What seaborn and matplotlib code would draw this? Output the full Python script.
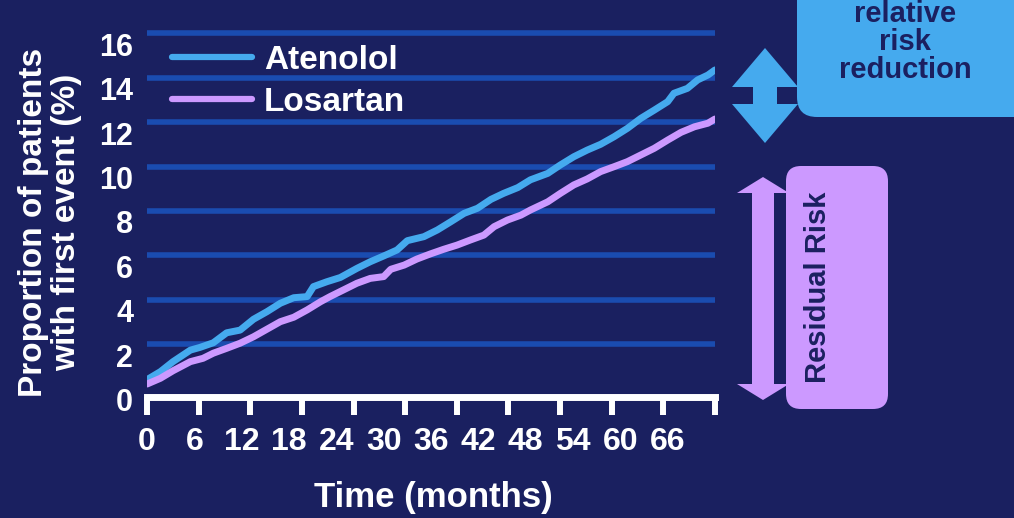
import matplotlib
matplotlib.use("Agg")
import matplotlib.pyplot as plt
import matplotlib.transforms as mtransforms
from matplotlib.patches import FancyBboxPatch, Polygon
import numpy as np
import pandas as pd
import seaborn as sns

# Cumulative incidence of first event (%), by month of follow-up
atenolol_months = [0, 1.7, 3.3, 5.5, 6.7, 8.4, 10.1, 11.8, 13.5, 15.2,
                   16.9, 18.6, 20.3, 21.1, 22.8, 24.5, 26.6, 28.3, 30.0, 31.7,
                   33.0, 35.1, 36.8, 38.5, 40.2, 41.9, 43.6, 45.2, 47.0, 48.6,
                   50.8, 52.4, 54.1, 55.8, 57.5, 59.2, 60.9, 62.6, 64.3, 66.0,
                   66.8, 68.5, 69.8, 71.1, 72.0]
atenolol_pct = [0.4, 0.76, 1.21, 1.73, 1.85, 2.06, 2.51, 2.63, 3.12, 3.46,
                3.84, 4.09, 4.14, 4.59, 4.81, 5.0, 5.41, 5.71, 5.97, 6.24,
                6.66, 6.84, 7.14, 7.51, 7.89, 8.12, 8.52, 8.79, 9.05, 9.4,
                9.69, 10.07, 10.44, 10.74, 11.0, 11.34, 11.72, 12.17, 12.54, 12.92,
                13.3, 13.52, 13.9, 14.12, 14.35]

losartan_months = [0, 1.7, 3.3, 5.5, 7.1, 8.4, 10.1, 11.8, 13.5, 15.2,
                   16.9, 18.6, 20.3, 22.0, 23.2, 24.9, 26.6, 28.3, 30.0, 30.9,
                   32.6, 34.2, 35.9, 37.6, 39.3, 41.0, 42.7, 44.0, 45.7, 47.4,
                   48.6, 50.8, 52.4, 54.1, 55.8, 57.5, 59.2, 60.9, 62.6, 64.3,
                   66.0, 67.7, 69.4, 71.1, 72.0]
losartan_pct = [0.2, 0.46, 0.8, 1.21, 1.36, 1.59, 1.81, 2.04, 2.33, 2.67,
                3.01, 3.21, 3.54, 3.91, 4.14, 4.44, 4.74, 4.96, 5.04, 5.37,
                5.56, 5.83, 6.06, 6.27, 6.46, 6.69, 6.91, 7.29, 7.59, 7.81,
                8.04, 8.41, 8.79, 9.17, 9.44, 9.77, 9.99, 10.22, 10.52, 10.82,
                11.19, 11.54, 11.79, 11.95, 12.14]

series_names = ["Atenolol", "Losartan"]
xtick_values = [0, 6, 12, 18, 24, 30, 36, 42, 48, 54, 60, 66]
xtick_labels = [str(v) for v in xtick_values]
ytick_values = [0, 2, 4, 6, 8, 10, 12, 14, 16]
ytick_labels = [str(v) for v in ytick_values]

BG = "#1a2060"
GRID = "#1a4cb0"
NAVY = "#1b2060"
BLUE = "#45aaee"
LILAC = "#cc99ff"

df = pd.concat([
    pd.DataFrame({"Month": atenolol_months, "Pct": atenolol_pct, "Treatment": series_names[0]}),
    pd.DataFrame({"Month": losartan_months, "Pct": losartan_pct, "Treatment": series_names[1]}),
], ignore_index=True)

sns.set_theme(style="dark")
plt.rcParams["font.family"] = ["Liberation Sans", "DejaVu Sans"]
plt.rcParams["font.weight"] = "bold"

W, H = 1014, 518
fig = plt.figure(figsize=(W / 100, H / 100), dpi=100, facecolor=BG)
ax = fig.add_axes([147 / W, 1 - 396.5 / H, 568 / W, 366.3 / H])
ax.set_facecolor(BG)

sns.lineplot(data=df, x="Month", y="Pct", hue="Treatment",
             palette={series_names[0]: BLUE, series_names[1]: LILAC},
             estimator=None, linewidth=5, ax=ax, zorder=3)

ax.set_xlim(0, 72)
ax.set_ylim(-0.36, 16.14)

for side in ("left", "right", "top"):
    ax.spines[side].set_visible(False)
ax.spines["bottom"].set_color("white")
ax.spines["bottom"].set_linewidth(5)
ax.spines["bottom"].set_capstyle("projecting")

# tick marks span the axis in equal steps; month labels sit on their own positions
ax.xaxis.remove_overlapping_locs = False
ax.set_xticks(np.linspace(0, 72, 12))
ax.set_xticklabels([])
ax.set_xticks(xtick_values, minor=True)
ax.set_xticklabels(xtick_labels, minor=True)
ax.tick_params(axis="x", which="major", direction="out", length=13, width=4.3,
               color="white", bottom=True)
ax.tick_params(axis="x", which="minor", length=0, pad=22, labelsize=23,
               labelcolor="white")

ax.set_yticks(ytick_values)
ax.set_yticklabels(ytick_labels)
ax.tick_params(axis="y", length=0, pad=10, labelsize=22, labelcolor="white")
shift = mtransforms.ScaledTranslation(0, -0.11, fig.dpi_scale_trans)
for lab in ax.get_yticklabels():
    lab.set_transform(lab.get_transform() + shift)
    lab.set_fontweight("bold")
for lab in ax.get_xticklabels(minor=True):
    lab.set_fontweight("bold")

ax.grid(False)
ax.yaxis.grid(True, color=GRID, linewidth=4, solid_capstyle="butt")
ax.get_ygridlines()[0].set_visible(False)
ax.set_axisbelow(True)

ax.set_xlabel("Time (months)", fontsize=25, fontweight="bold", color="white", va="center")
ax.xaxis.set_label_coords(433 / W, 1 - 497 / H, transform=fig.transFigure)
ax.set_ylabel("Proportion of patients\nwith first event (%)", fontsize=24,
              fontweight="bold", color="white", va="center", linespacing=1.05)
ax.yaxis.set_label_coords(50 / W, 1 - 222 / H, transform=fig.transFigure)

handles, labels = ax.get_legend_handles_labels()
leg = ax.legend(handles, labels, loc="upper left",
                bbox_to_anchor=(172 / W, 1 - 45 / H), bbox_transform=fig.transFigure,
                frameon=False, borderpad=0, borderaxespad=0, labelspacing=0.33,
                handlelength=2.4, handletextpad=0.36, fontsize=24)
for t in leg.get_texts():
    t.set_color("white")
    t.set_fontweight("bold")
for ln in leg.get_lines():
    ln.set_linewidth(4.5)

# side annotations, positioned in pixel units on the figure (y measured from top)
tr = fig.dpi_scale_trans


def px(x, y):
    return (x / 100, (H - y) / 100)


def double_arrow(cx, top, bottom, head_half, head_len, shaft_half, color):
    pts = [(cx, top), (cx + head_half, top + head_len), (cx + shaft_half, top + head_len),
           (cx + shaft_half, bottom - head_len), (cx + head_half, bottom - head_len),
           (cx, bottom), (cx - head_half, bottom - head_len), (cx - shaft_half, bottom - head_len),
           (cx - shaft_half, top + head_len), (cx - head_half, top + head_len)]
    fig.patches.append(Polygon([px(*p) for p in pts], closed=True, transform=tr,
                               facecolor=color, edgecolor="none"))


double_arrow(765, 48, 143, 33, 39, 12, BLUE)
box1 = FancyBboxPatch(px(797, 117), 2.4, 1.6, boxstyle="round,pad=0,rounding_size=0.2",
                      transform=tr, facecolor=BLUE, edgecolor="none")
fig.patches.append(box1)
fig.text(905 / W, 1 - 42 / H, "relative\nrisk\nreduction", ha="center", va="center",
         fontsize=21, fontweight="bold", color=NAVY, linespacing=1.0)

double_arrow(763, 177, 400, 26, 16, 11, LILAC)
box2 = FancyBboxPatch(px(786, 409), 1.02, 2.43, boxstyle="round,pad=0,rounding_size=0.15",
                      transform=tr, facecolor=LILAC, edgecolor="none")
fig.patches.append(box2)
fig.text(818 / W, 1 - 287 / H, "Residual Risk", ha="center", va="center", rotation=90,
         fontsize=21, fontweight="bold", color=NAVY)

fig.savefig("out.png", dpi=100, facecolor=BG)
